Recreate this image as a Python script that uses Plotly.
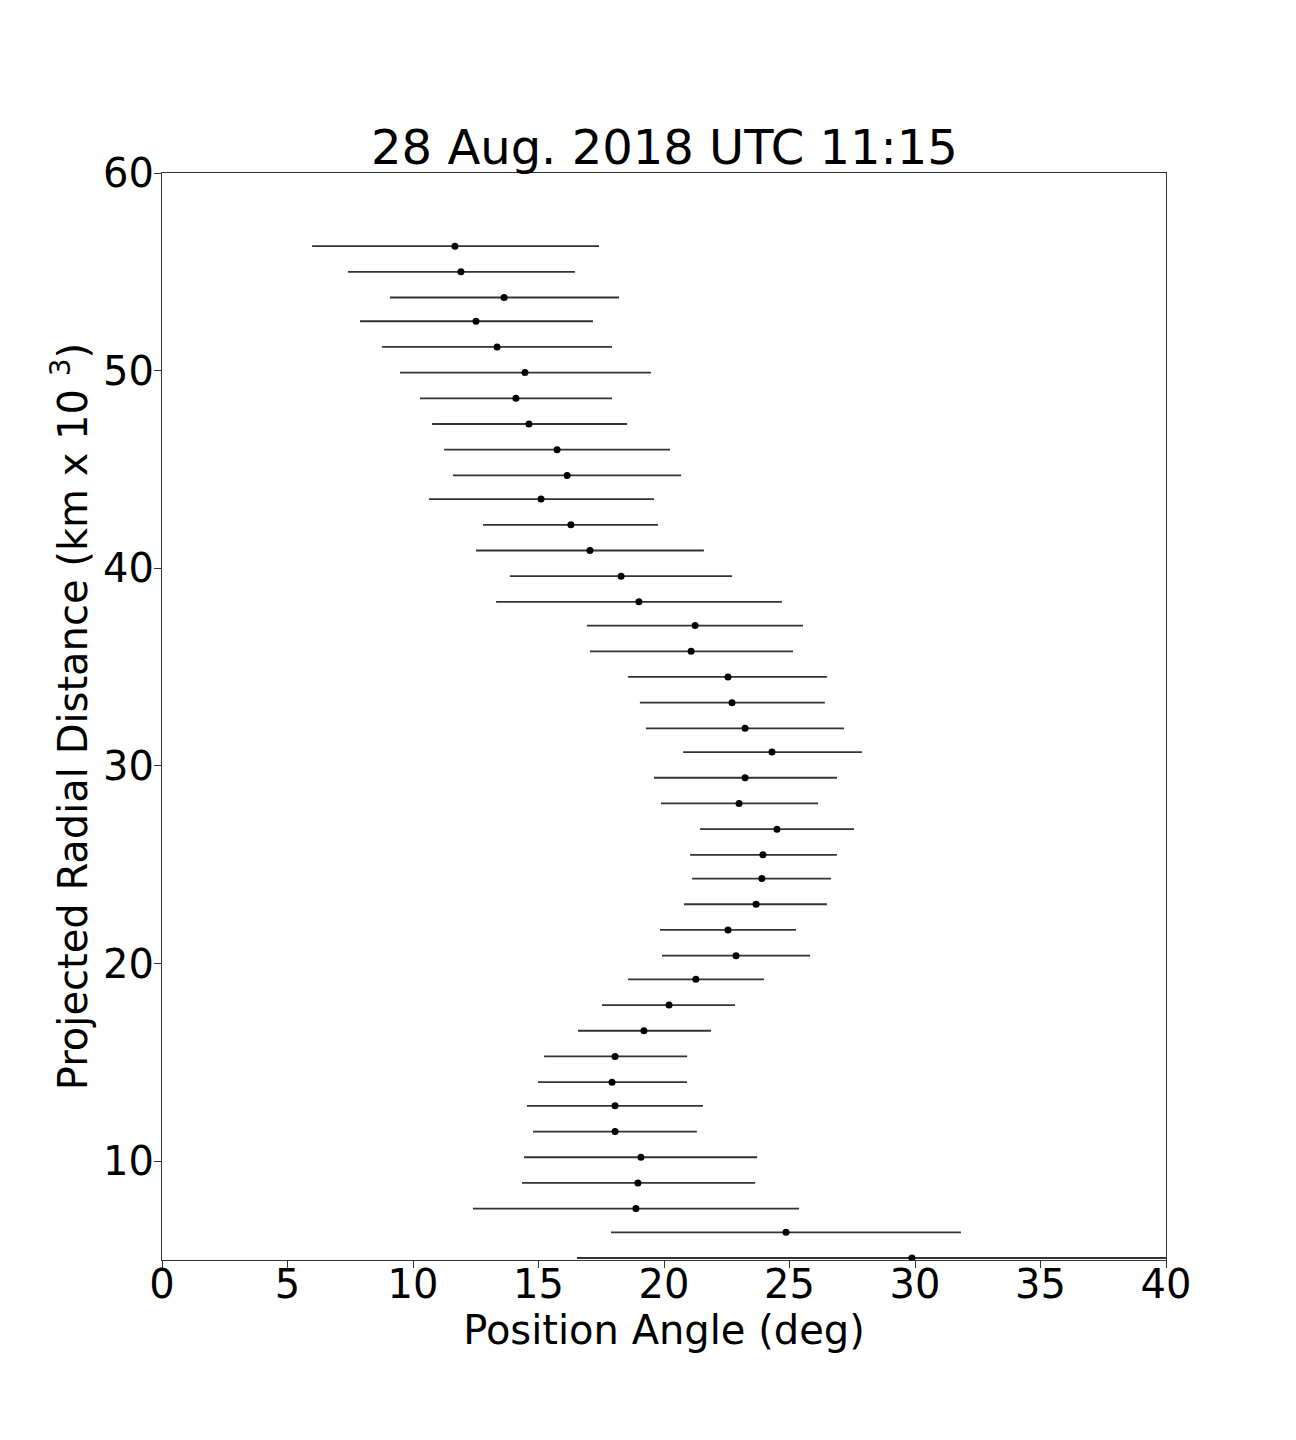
import plotly.graph_objects as go

# position angle (deg) and projected radial distance (km x 10^3)
radial_distance = [56.3, 55.0, 53.7, 52.5, 51.2, 49.9, 48.6, 47.3, 46.0, 44.7,
                   43.5, 42.2, 40.9, 39.6, 38.3, 37.1, 35.8, 34.5, 33.2, 31.9,
                   30.7, 29.4, 28.1, 26.8, 25.5, 24.3, 23.0, 21.7, 20.4, 19.2,
                   17.9, 16.6, 15.3, 14.0, 12.8, 11.5, 10.2, 8.9, 7.6, 6.4, 5.1]
position_angle = [11.67, 11.91, 13.63, 12.51, 13.35, 14.46, 14.10, 14.62, 15.74, 16.14,
                  15.10, 16.29, 17.05, 18.29, 19.00, 21.24, 21.08, 22.55, 22.71, 23.23,
                  24.30, 23.23, 22.99, 24.50, 23.94, 23.90, 23.67, 22.55, 22.87, 21.27,
                  20.20, 19.20, 18.05, 17.93, 18.05, 18.05, 19.08, 18.96, 18.88, 24.86, 29.88]
angle_low = [5.98, 7.41, 9.08, 7.89, 8.76, 9.48, 10.28, 10.76, 11.24, 11.59,
             10.64, 12.79, 12.51, 13.86, 13.31, 16.93, 17.05, 18.57, 19.04, 19.28,
             20.76, 19.60, 19.88, 21.43, 21.04, 21.12, 20.80, 19.84, 19.92, 18.57,
             17.53, 16.57, 15.22, 14.98, 14.54, 14.78, 14.42, 14.34, 12.39, 17.89, 16.53]
angle_high = [17.41, 16.45, 18.21, 17.17, 17.93, 19.48, 17.93, 18.53, 20.24, 20.68,
              19.60, 19.76, 21.59, 22.71, 24.70, 25.54, 25.14, 26.49, 26.41, 27.17,
              27.89, 26.89, 26.14, 27.57, 26.89, 26.65, 26.49, 25.26, 25.82, 23.98,
              22.83, 21.87, 20.92, 20.92, 21.55, 21.31, 23.71, 23.63, 25.38, 31.83, 43.2]

err_plus = [h - c for h, c in zip(angle_high, position_angle)]
err_minus = [c - l for l, c in zip(angle_low, position_angle)]

font = "DejaVu Sans"

fig = go.Figure()
fig.add_trace(go.Scatter(
    x=position_angle, y=radial_distance, mode="markers",
    marker=dict(color="black", size=7),
    error_x=dict(type="data", symmetric=False, array=err_plus, arrayminus=err_minus,
                 color="#333333", thickness=1.8, width=0),
    showlegend=False,
))

axis_common = dict(
    showgrid=False, zeroline=False, showline=True, linecolor="#333333", linewidth=1,
    mirror=True, ticks="outside", ticklen=7, tickwidth=1, tickcolor="#333333",
    tickfont=dict(family=font, size=40, color="black"),
)

fig.update_xaxes(range=[0, 40], tickvals=[0, 5, 10, 15, 20, 25, 30, 35, 40],
                 ticklabelstandoff=-18,
                 title=dict(text="Position Angle (deg)", font=dict(family=font, size=40, color="black"),
                            standoff=8),
                 **axis_common)
fig.update_yaxes(range=[5, 60], tickvals=[10, 20, 30, 40, 50, 60],
                 ticklabelstandoff=-8,
                 title=dict(text="Projected Radial Distance (km x 10 <sup>3</sup>)",
                            font=dict(family=font, size=40, color="black"), standoff=3),
                 **axis_common)

fig.update_layout(
    width=1296, height=1440,
    margin=dict(l=154, r=138, t=165, b=188),
    plot_bgcolor="white", paper_bgcolor="white",
    title=dict(text="28 Aug. 2018 UTC 11:15", x=0.5065, xanchor="center",
               y=1 - 139 / 1440, yanchor="middle", yref="container",
               font=dict(family=font, size=48, color="black")),
)

fig.write_html("out.html")
